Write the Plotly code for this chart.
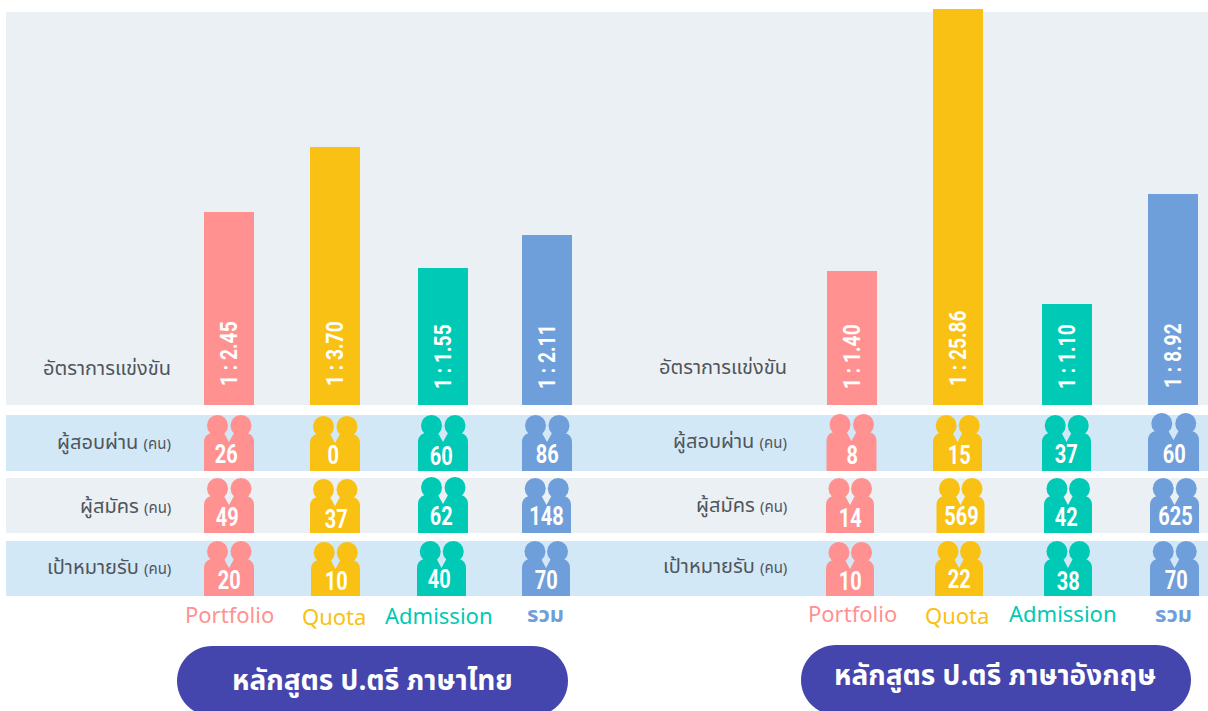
import plotly.graph_objects as go

# ---------- data ----------
categories = ["Portfolio", "Quota", "Admission", "รวม"]
row_labels = ["ผู้สอบผ่าน", "ผู้สมัคร", "เป้าหมายรับ"]
ratio_label = "อัตราการแข่งขัน"
unit_label = "(คน)"
titles = ["หลักสูตร ป.ตรี ภาษาไทย", "หลักสูตร ป.ตรี ภาษาอังกฤษ"]

thai_ratio = ["1:2.45", "1:3.70", "1:1.55", "1:2.11"]
eng_ratio = ["1:1.40", "1:25.86", "1:1.10", "1:8.92"]
thai_bar = [193, 258, 137, 170]
eng_bar = [134, 396, 101, 211]

thai_passed = [26, 0, 60, 86]
thai_applied = [49, 37, 62, 148]
thai_target = [20, 10, 40, 70]
eng_passed = [8, 15, 37, 60]
eng_applied = [14, 569, 42, 625]
eng_target = [10, 22, 38, 70]

# ---------- layout constants ----------
W, H = 1208, 711
BASE = 405
def py(p):
    return BASE - p

colors = ["#FF9191", "#F8C113", "#00C9B5", "#6F9FDB"]
PANEL = "#EBF0F5"
BLUE_ROW = "#D2E8F7"
PILL = "#4545AE"
INK = "#50555B"
THAI = "'Noto Sans Thai', 'Noto Sans Thai Looped', 'Noto Sans', 'Open Sans', sans-serif"
NUM = "Roboto, sans-serif"

bar_x = [[229, 335, 443, 547], [852, 957.5, 1067, 1173]]
bar_w = [50, 50, 50, 50]

fig = go.Figure()
for g, bars in enumerate([thai_bar, eng_bar]):
    fig.add_trace(go.Bar(
        x=bar_x[g], y=bars, width=bar_w, marker=dict(color=colors, line_width=0),
        showlegend=False, hoverinfo="skip"))

def rect(x0, y0, x1, y1, c):
    return dict(type="rect", xref="x", yref="y", x0=x0, x1=x1, y0=py(y0), y1=py(y1),
                fillcolor=c, line_width=0, layer="below")

shapes = [
    rect(6, 12, W, 405, PANEL),
    rect(6, 415, W, 471, BLUE_ROW),
    rect(6, 478, W, 533, PANEL),
    rect(6, 541, W, 596, BLUE_ROW),
]

def person_icon(left, top, bottom, width, c):
    s = width / 50.0
    X = lambda v: left + v * s
    Y = lambda v: py(top + v)
    body = (f"M{X(0)},{py(bottom)} L{X(0)},{Y(27)} Q{X(0)},{Y(20)} {X(7)},{Y(18)} "
            f"L{X(13)},{Y(16)} L{X(20)},{Y(18)} L{X(25)},{Y(27)} L{X(30)},{Y(18)} "
            f"L{X(37)},{Y(16)} L{X(43)},{Y(18)} Q{X(50)},{Y(20)} {X(50)},{Y(27)} "
            f"L{X(50)},{py(bottom)} Z")
    out = [dict(type="path", xref="x", yref="y", path=body, fillcolor=c, line_width=0, layer="above")]
    for cx in (13.5, 37):
        out.append(dict(type="circle", xref="x", yref="y",
                        x0=X(cx) - 10.5, x1=X(cx) + 10.5,
                        y0=Y(0), y1=Y(21),
                        fillcolor=c, line_width=0, layer="above"))
    return out

icon_left = [
    [[204, 310, 418, 522], [204, 310, 418, 522], [204, 311, 417, 522]],
    [[826.5, 933, 1042, 1148], [826, 936.5, 1044, 1150], [826, 935, 1044, 1150]],
]
icon_top = [
    [[415, 416, 415, 415], [478, 479, 477, 478], [541, 542, 541, 541]],
    [[414, 415, 415, 413], [478, 478, 478, 478], [542, 541, 541, 541]],
]
icon_w = [
    [[50, 50, 50, 50], [50, 50, 50, 49], [50, 49, 49, 48]],
    [[50, 49, 49, 51], [48, 48, 48, 49], [48, 48, 48, 49]],
]
row_bottom = [471, 533, 596]
num_xy = [
    [[(226, 454), (333, 455), (441, 456), (547, 454)],
     [(227, 517), (336, 519), (441, 516), (546, 516)],
     [(229, 580), (336, 581), (439, 579), (546, 580)]],
    [[(852, 455), (959, 455), (1066, 454), (1174, 454)],
     [(850, 518), (961, 516), (1066, 517), (1175, 516)],
     [(850, 581), (959, 579), (1068, 581), (1176, 580)]],
]
values = [[thai_passed, thai_applied, thai_target], [eng_passed, eng_applied, eng_target]]

anns = []
def text(x, y, t, size, color, family=THAI, xanchor="center", angle=0, weight=None):
    f = dict(size=size, color=color, family=family)
    if weight:
        f["weight"] = weight
    anns.append(dict(x=x, y=py(y), xref="x", yref="y", text=t, showarrow=False,
                     xanchor=xanchor, yanchor="middle", textangle=angle, font=f))

for g in range(2):
    for r in range(3):
        for c in range(4):
            shapes += person_icon(icon_left[g][r][c], icon_top[g][r][c], row_bottom[r],
                                  icon_w[g][r][c], colors[c])
            x, y = num_xy[g][r][c]
            text(x, y, str(values[g][r][c]), 25, "white", NUM, weight=700)

ratio_y = [[354, 354, 357, 357], [357, 348, 357, 356]]
for g, ratios in enumerate([thai_ratio, eng_ratio]):
    for c, t in enumerate(ratios):
        text(bar_x[g][c], ratio_y[g][c], t.replace(":", " : "), 24, "white", NUM, angle=-90, weight=700)

label_right = [173, 789]
row_label_y = [[443, 507, 568], [442, 506, 567]]
ratio_label_y = [369, 368]
for g in range(2):
    text(label_right[g], ratio_label_y[g], ratio_label, 20, INK, xanchor="right")
    for r, t in enumerate(row_labels):
        text(label_right[g], row_label_y[g][r],
             f"{t} <span style='font-size:15px'>{unit_label}</span>", 20, INK, xanchor="right")

cat_xy = [[(229.5, 616), (334, 618), (439, 617), (545, 615)],
          [(852.5, 615), (957, 617), (1063, 615), (1173, 615)]]
for g in range(2):
    for c, t in enumerate(categories):
        x, y = cat_xy[g][c]
        lab = f"<b>{t}</b>" if c == 3 else t
        text(x, y, lab, 22, colors[c])

pills = [(177, 568, 646, 716), (801, 1191, 645, 715)]
K = 0.5523
for x0, x1, y0, y1 in pills:
    r = (y1 - y0) / 2
    m = r * K
    yc = y0 + r
    path = (f"M{x0 + r},{py(y0)} L{x1 - r},{py(y0)} "
            f"C{x1 - r + m},{py(y0)} {x1},{py(yc - m)} {x1},{py(yc)} "
            f"C{x1},{py(yc + m)} {x1 - r + m},{py(y1)} {x1 - r},{py(y1)} "
            f"L{x0 + r},{py(y1)} "
            f"C{x0 + r - m},{py(y1)} {x0},{py(yc + m)} {x0},{py(yc)} "
            f"C{x0},{py(yc - m)} {x0 + r - m},{py(y0)} {x0 + r},{py(y0)} Z")
    shapes.append(dict(type="path", xref="x", yref="y", path=path, fillcolor=PILL, line_width=0, layer="below"))

text(372.5, 681, titles[0], 28, "white", weight=700)
text(995, 676, titles[1], 28, "white", weight=700)

fig.update_layout(
    width=W, height=H, margin=dict(l=0, r=0, t=0, b=0),
    paper_bgcolor="white", plot_bgcolor="white",
    xaxis=dict(range=[0, W], visible=False, fixedrange=True),
    yaxis=dict(range=[BASE - H, BASE], visible=False, fixedrange=True),
    shapes=shapes, annotations=anns, bargap=0, showlegend=False,
)

# page margin off; digits condensed to the reference's narrow numerals
post = """
document.body.style.margin = '0';
document.documentElement.style.overflow = 'hidden';
document.querySelectorAll('text.annotation-text').forEach(function (t) {
  if ((t.style.fontFamily || '').indexOf('Roboto') >= 0) {
    t.setAttribute('lengthAdjust', 'spacingAndGlyphs');
    t.setAttribute('textLength', t.getComputedTextLength() * 0.8);
  }
});
"""
fig.write_html("out.html", config={"displayModeBar": False}, post_script=post)
